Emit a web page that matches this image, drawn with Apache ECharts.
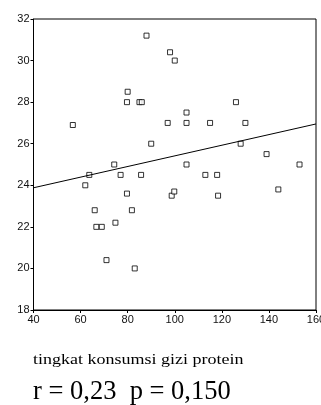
<!DOCTYPE html>
<html><head><meta charset="utf-8">
<script src="https://cdn.jsdelivr.net/npm/echarts@6/dist/echarts.min.js"></script>
<style>html,body{margin:0;padding:0;background:#fff}#c{width:321px;height:405px}</style>
</head><body><div id="c"></div>
<script>
const proteinX = [88,80,79.7,85,86,56.7,90,74.3,98,100,126,105,97,105,115,130,128,139,105,153,63.7,77,85.7,62,79.7,66,81.8,74.8,66.7,69,71,83,113,118,98.7,99.8,118.4,144];
const valueY = [31.2,28.5,28,28,28,26.9,26,25,30.4,30,28,27.5,27,27,27,27,26,25.5,25,25,24.5,24.5,24.5,24,23.6,22.8,22.8,22.2,22,22,20.4,20,24.5,24.5,23.5,23.7,23.5,23.8];
const fitX = [40,160];
const fitY = [23.88,26.95];
const xTicks = [40,160,20];
const yTicks = [18,32,2];
const xTitle = 'tingkat konsumsi gizi protein';
const statText = 'r = 0,23  p = 0,150';

const chart = echarts.init(document.getElementById('c'), null, {renderer:'canvas'});
chart.setOption({
  animation:false,
  grid:{left:33.5,right:5,top:19,bottom:95,show:true,borderColor:'#000',borderWidth:1,containLabel:false,outerBoundsMode:'none'},
  graphic:[
    {type:'text',x:33,y:353,scaleX:1.2,style:{text:xTitle,fontFamily:'Liberation Serif',fontSize:15,fill:'#000',verticalAlign:'top'}},
    {type:'text',x:33,y:379,style:{text:statText,fontFamily:'Liberation Serif',fontSize:26.5,fill:'#000',verticalAlign:'top'}}
  ],
  xAxis:{type:'value',min:xTicks[0],max:xTicks[1],interval:xTicks[2],splitLine:{show:false},
    axisLine:{lineStyle:{color:'#000',width:1}},axisTick:{length:3,lineStyle:{color:'#000'}},
    axisLabel:{fontFamily:'Liberation Sans',fontSize:11,color:'#111',margin:4}},
  yAxis:{type:'value',min:yTicks[0],max:yTicks[1],interval:yTicks[2],splitLine:{show:false},
    axisLine:{show:true,lineStyle:{color:'#000',width:1}},axisTick:{show:true,length:3,lineStyle:{color:'#000'}},
    axisLabel:{fontFamily:'Liberation Sans',fontSize:11,color:'#111',margin:4}},
  series:[
    {type:'scatter',data:proteinX.map((x,i)=>[x,valueY[i]]),symbol:'rect',symbolSize:5,
      itemStyle:{color:'#fff',borderColor:'#000',borderWidth:1}},
    {type:'line',data:fitX.map((x,i)=>[x,fitY[i]]),symbol:'none',lineStyle:{color:'#000',width:1}}
  ]
});
</script></body></html>
